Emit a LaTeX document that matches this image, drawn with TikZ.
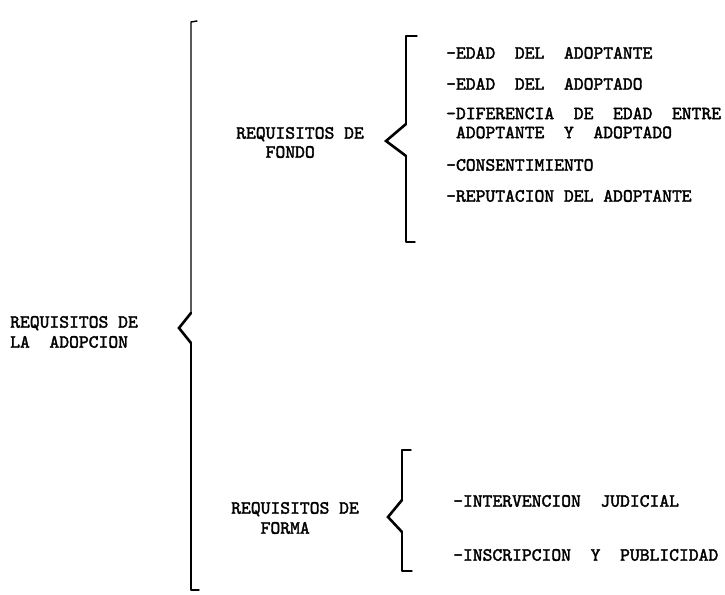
\documentclass[tikz,border=0pt]{standalone}
\usepackage{fontspec}
\newfontfamily\tw{lmmono10-regular.otf}[AutoFakeBold=2]
\begin{document}
\begin{tikzpicture}[x=1pt,y=-1pt,
  txt/.style={anchor=base west,inner sep=0pt,font=\tw\bfseries\fontsize{18.7}{22}\selectfont},
  bvert/.style={line width=1.4pt,line join=round,line cap=round},
  barm/.style={line width=2.6pt,line join=miter,line cap=round}]
\fill[white] (0,0) rectangle (725,594);
\useasboundingbox (0,0) rectangle (725,594);

% ---- main label
\node[txt] (m1) at (10,327.7) {REQUISITOS~DE};
\node[txt] (m2) at (10,347.7) {LA~~ADOPCION};

% ---- big brace
\coordinate (Btop) at (191,22);
\coordinate (Ba)   at (191,313);
\coordinate (Btip) at (179,328);
\coordinate (Bb)   at (191,343);
\coordinate (Bbot) at (191,590);
\draw[bvert] ([xshift=6pt,yshift=1pt]Btop) -- (Btop) -- (Ba);
\draw[barm] (Ba) -- (Btip) -- (Bb);
\draw[bvert] (Bb) -- (Bbot) -- ([xshift=8pt]Bbot);

% ---- fondo label
\node[txt] (f1) at (236,138.7) {REQUISITOS~DE};
\node[txt] (f2) at (236,157.7) {~~~FONDO};

% ---- fondo brace
\coordinate (Ftop) at (406,36);
\coordinate (Fa)   at (406,124);
\coordinate (Ftip) at (386,141);
\coordinate (Fb)   at (406,156);
\coordinate (Fbot) at (406,242);
\draw[bvert] ([xshift=11pt]Ftop) -- (Ftop) -- (Fa);
\draw[barm] (Fa) -- (Ftip) -- (Fb);
\draw[bvert] (Fb) -- (Fbot) -- ([xshift=9pt]Fbot);

% ---- fondo items
\node[txt] (i1) at (446,58.7)  {-EDAD~~DEL~~ADOPTANTE};
\node[txt] (i2) at (446,89.7)  {-EDAD~~DEL~~ADOPTADO};
\node[txt] (i3) at (446,119.2) {-DIFERENCIA~~DE~~EDAD~~ENTRE};
\node[txt] (i4) at (446,138.2) {~ADOPTANTE~~Y~~ADOPTADO};
\node[txt] (i5) at (446,170.7) {-CONSENTIMIENTO};
\node[txt] (i6) at (446,201.7) {-REPUTACION~DEL~ADOPTANTE};

% ---- forma label
\node[txt] (g1) at (231,513.7) {REQUISITOS~DE};
\node[txt] (g2) at (231,533.7) {~~~FORMA};

% ---- forma brace
\coordinate (Gtop) at (402,450);
\coordinate (Ga)   at (402,500);
\coordinate (Gtip) at (388,517);
\coordinate (Gb)   at (402,532);
\coordinate (Gbot) at (402,571);
\draw[bvert] ([xshift=9pt]Gtop) -- (Gtop) -- (Ga);
\draw[barm] (Ga) -- (Gtip) -- (Gb);
\draw[bvert] (Gb) -- (Gbot) -- ([xshift=10pt]Gbot);

% ---- forma items
\node[txt] (j1) at (453,506.7) {-INTERVENCION~~JUDICIAL};
\node[txt] (j2) at (453,560.7) {-INSCRIPCION~~Y~~PUBLICIDAD};
\end{tikzpicture}
\end{document}
